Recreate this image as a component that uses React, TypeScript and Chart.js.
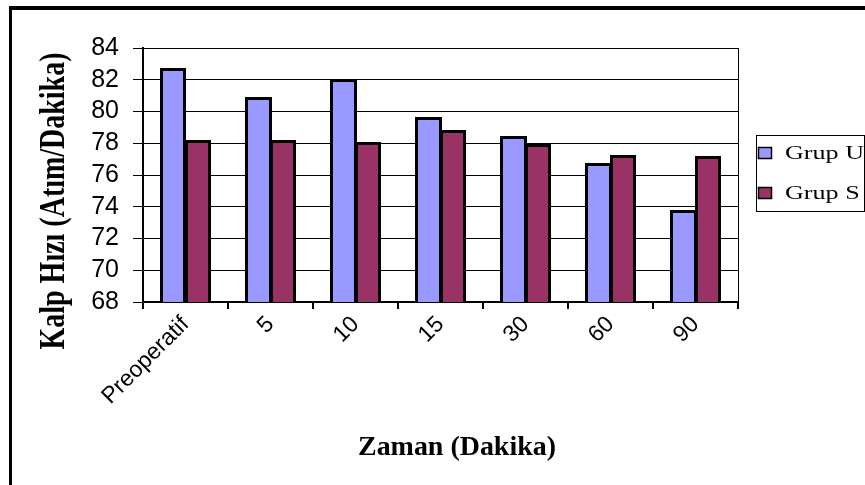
import React, { useEffect, useRef } from "react";
import { Chart, registerables } from "chart.js";

Chart.register(...registerables);

const categories = ["Preoperatif", "5", "10", "15", "30", "60", "90"];
const grupU = [82.7, 80.85, 82.0, 79.6, 78.4, 76.7, 73.75];
const grupS = [78.15, 78.15, 78.0, 78.75, 77.9, 77.2, 77.15];
const seriesNames = ["Grup U", "Grup S"];
const seriesColors = ["#9999FF", "#993366"];
const yMin = 68;
const yMax = 84;
const yStep = 2;
const yTitle = "Kalp Hızı (Atım/Dakika)";
const xTitle = "Zaman (Dakika)";

const extrasPlugin = {
  id: "extras",
  afterDatasetsDraw(chart: any) {
    // heavy outlines around each bar, using the bar elements' own geometry
    const ctx = chart.ctx as CanvasRenderingContext2D;
    const area = chart.chartArea;
    ctx.save();
    ctx.strokeStyle = "#000";
    ctx.lineWidth = 3;
    chart.data.datasets.forEach((_: any, di: number) => {
      const meta = chart.getDatasetMeta(di);
      meta.data.forEach((bar: any) => {
        const p = bar.getProps(["x", "y", "base", "width"], true);
        const left = Math.round(p.x - p.width / 2);
        const right = Math.round(p.x + p.width / 2);
        const top = Math.round(p.y);
        const bottom = Math.round(Math.min(p.base, area.bottom));
        ctx.beginPath();
        ctx.moveTo(left + 0.5, bottom);
        ctx.lineTo(left + 0.5, top + 0.5);
        ctx.lineTo(right - 0.5, top + 0.5);
        ctx.lineTo(right - 0.5, bottom);
        ctx.stroke();
      });
    });
    ctx.restore();
  },
  afterDraw(chart: any) {
    const ctx = chart.ctx as CanvasRenderingContext2D;
    const area = chart.chartArea;
    ctx.save();
    // outer frame (left & top)
    ctx.fillStyle = "#000";
    ctx.fillRect(9, 6, 3, 485);
    ctx.fillRect(9, 6, 870, 4);
    // plot area right border
    ctx.strokeStyle = "#000";
    ctx.lineWidth = 1;
    ctx.beginPath();
    ctx.moveTo(Math.round(area.right) + 0.5, area.top);
    ctx.lineTo(Math.round(area.right) + 0.5, area.bottom);
    ctx.stroke();

    // y title (rotated, compressed along its length)
    ctx.fillStyle = "#000";
    ctx.font = "bold 36px 'Liberation Serif', 'Times New Roman', serif";
    ctx.textAlign = "center";
    ctx.textBaseline = "middle";
    let w = ctx.measureText(yTitle).width;
    ctx.save();
    ctx.translate(55, 201);
    ctx.rotate(-Math.PI / 2);
    ctx.scale(297 / w, 1);
    ctx.fillText(yTitle, 0, 0);
    ctx.restore();

    // x title
    ctx.font = "bold 27px 'Liberation Serif', 'Times New Roman', serif";
    w = ctx.measureText(xTitle).width;
    ctx.save();
    ctx.translate(457, 448);
    ctx.scale(198 / w, 1);
    ctx.fillText(xTitle, 0, 0);
    ctx.restore();

    // legend
    ctx.lineWidth = 1;
    ctx.strokeStyle = "#000";
    ctx.strokeRect(756.5, 135.5, 108, 76);
    ctx.font = "19px 'Liberation Serif', 'Times New Roman', serif";
    ctx.textAlign = "left";
    ctx.textBaseline = "alphabetic";
    const lw = ctx.measureText(seriesNames[0]).width;
    const sx = 79 / lw;
    const rows = [147, 187];
    seriesNames.forEach((name, i) => {
      const y = rows[i];
      ctx.fillStyle = seriesColors[i];
      ctx.fillRect(758, y, 13, 11);
      ctx.strokeStyle = "#000";
      ctx.lineWidth = 1.5;
      ctx.strokeRect(758.5, y + 0.5, 13, 11);
      ctx.fillStyle = "#000";
      ctx.save();
      ctx.translate(785, y + 11.5);
      ctx.scale(sx, 1);
      ctx.fillText(name, 0, 0);
      ctx.restore();
    });
    ctx.restore();
  },
};

export default function App() {
  const canvasRef = useRef<HTMLCanvasElement | null>(null);

  useEffect(() => {
    if (!canvasRef.current) return;
    const chart = new Chart(canvasRef.current, {
      type: "bar",
      data: {
        labels: categories,
        datasets: [
          {
            label: seriesNames[0],
            data: grupU,
            backgroundColor: seriesColors[0],
            borderWidth: 0,
          },
          {
            label: seriesNames[1],
            data: grupS,
            backgroundColor: seriesColors[1],
            borderWidth: 0,
          },
        ],
      },
      options: {
        responsive: false,
        animation: false,
        datasets: {
          bar: { barPercentage: 1, categoryPercentage: 0.58 },
        },
        layout: { padding: { top: 48, right: 127, left: 0, bottom: 0 } },
        plugins: {
          legend: { display: false },
          tooltip: { enabled: false },
          title: { display: false },
        },
        scales: {
          x: {
            offset: true,
            grid: {
              offset: true,
              drawOnChartArea: false,
              drawTicks: true,
              tickLength: 7,
              color: "#000",
              tickColor: "#000",
              lineWidth: 2,
            },
            border: { color: "#000", width: 2 },
            ticks: {
              color: "#000",
              font: { family: "'Liberation Sans', Arial, sans-serif", size: 23 },
              minRotation: 45,
              maxRotation: 45,
              autoSkip: false,
              padding: 2,
            },
            afterFit: (s: any) => {
              s.height = 183;
            },
          },
          y: {
            min: yMin,
            max: yMax,
            ticks: {
              stepSize: yStep,
              autoSkip: false,
              color: "#000",
              font: { family: "'Liberation Sans', Arial, sans-serif", size: 25 },
              padding: 14,
            },
            grid: {
              color: "#000",
              lineWidth: 1,
              tickLength: 10,
              tickColor: "#000",
            },
            border: { color: "#000", width: 2 },
            afterFit: (s: any) => {
              s.width = 143;
            },
          },
        },
      },
      plugins: [extrasPlugin],
    } as any);
    return () => chart.destroy();
  }, []);

  return (
    <div style={{ position: "fixed", left: 0, top: 0, width: 865, height: 485, background: "#fff" }}>
      <canvas ref={canvasRef} width={865} height={485} style={{ display: "block" }} />
    </div>
  );
}
